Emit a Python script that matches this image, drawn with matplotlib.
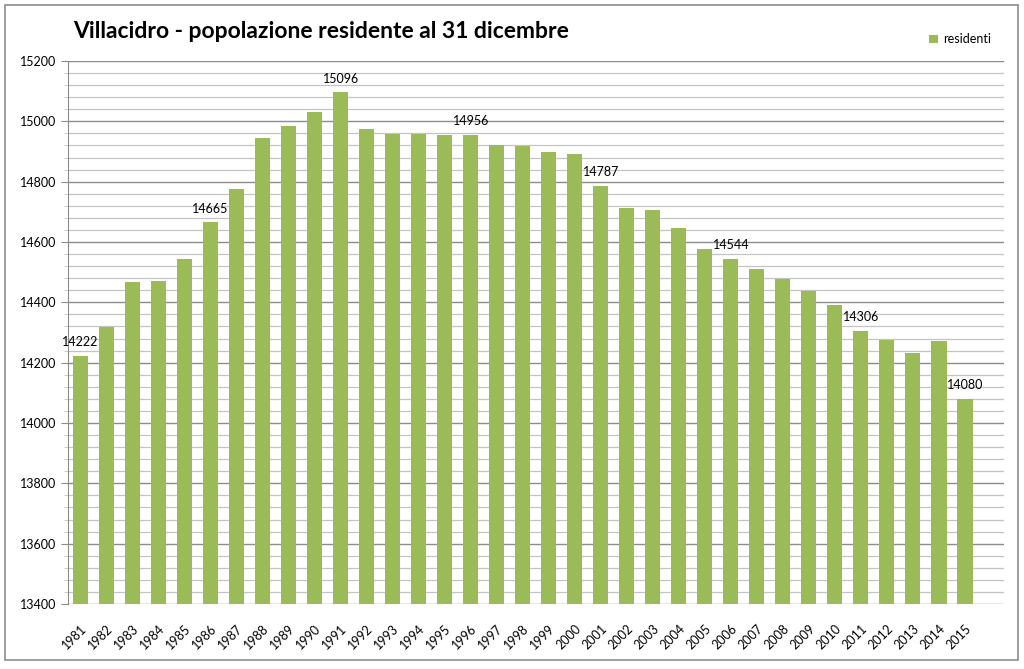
import matplotlib.pyplot as plt
from matplotlib.patches import Rectangle
from matplotlib.ticker import MultipleLocator

# Data
years = [str(y) for y in range(1981, 2016)]
residenti = [14222, 14318, 14468, 14472, 14543, 14665, 14777, 14944, 14984, 15032,
             15096, 14974, 14959, 14957, 14955, 14956, 14921, 14917, 14898, 14892,
             14787, 14713, 14706, 14648, 14577, 14544, 14510, 14478, 14437, 14390,
             14306, 14274, 14231, 14272, 14080]
labelled_years = ['1981', '1986', '1991', '1996', '2001', '2006', '2011', '2015']

plt.rcParams['font.family'] = ['Lato', 'DejaVu Sans']

fig = plt.figure(figsize=(10.24, 6.69), dpi=100)
ax = fig.add_axes([67.5 / 1024, 1 - 604 / 669, (1004 - 67.5) / 1024, (604 - 61) / 669])

x = list(range(len(years)))
bars = ax.bar(x, residenti, width=0.58, color='#9BBB59', label='residenti', zorder=3)

for i, (yr, v) in enumerate(zip(years, residenti)):
    if yr in labelled_years:
        ax.text(i, v + 25, str(v), ha='center', va='bottom', fontsize=9, zorder=4)

ax.set_xlim(-0.5, len(years) + 0.5)
ax.set_ylim(13400, 15200)
ax.yaxis.set_major_locator(MultipleLocator(200))
ax.yaxis.set_minor_locator(MultipleLocator(40))
ax.grid(which='major', axis='y', color='#8c8c8c', linewidth=1.0, zorder=0)
ax.grid(which='minor', axis='y', color='#c4c4c4', linewidth=0.9, zorder=0)

ax.set_xticks(x)
ax.set_xticklabels(years, rotation=45, ha='right', rotation_mode='anchor', fontsize=9)
ax.tick_params(axis='x', length=0, pad=13)
ax.tick_params(axis='y', which='major', length=5, color='#8c8c8c', labelsize=9, pad=3)
ax.tick_params(axis='y', which='minor', length=3, color='#c4c4c4')

for side in ['top', 'right', 'bottom']:
    ax.spines[side].set_visible(False)
ax.spines['left'].set_color('#8c8c8c')

fig.text(73 / 1024, 1 - 32 / 669, 'Villacidro - popolazione residente al 31 dicembre',
         fontsize=16.5, fontweight='bold', va='center', ha='left')

ax.legend(loc='upper left', bbox_to_anchor=(918 / 1024, 1 - 22 / 669),
          bbox_transform=fig.transFigure, frameon=False, fontsize=9,
          handlelength=0.7, handleheight=0.7, handletextpad=0.4)

fig.patches.append(Rectangle((5 / 1024, 1 - 660 / 669), 1013 / 1024, 655 / 669,
                             transform=fig.transFigure, fill=False,
                             edgecolor='#8c8c8c', linewidth=1.2))

fig.savefig('out.png', dpi=100)
